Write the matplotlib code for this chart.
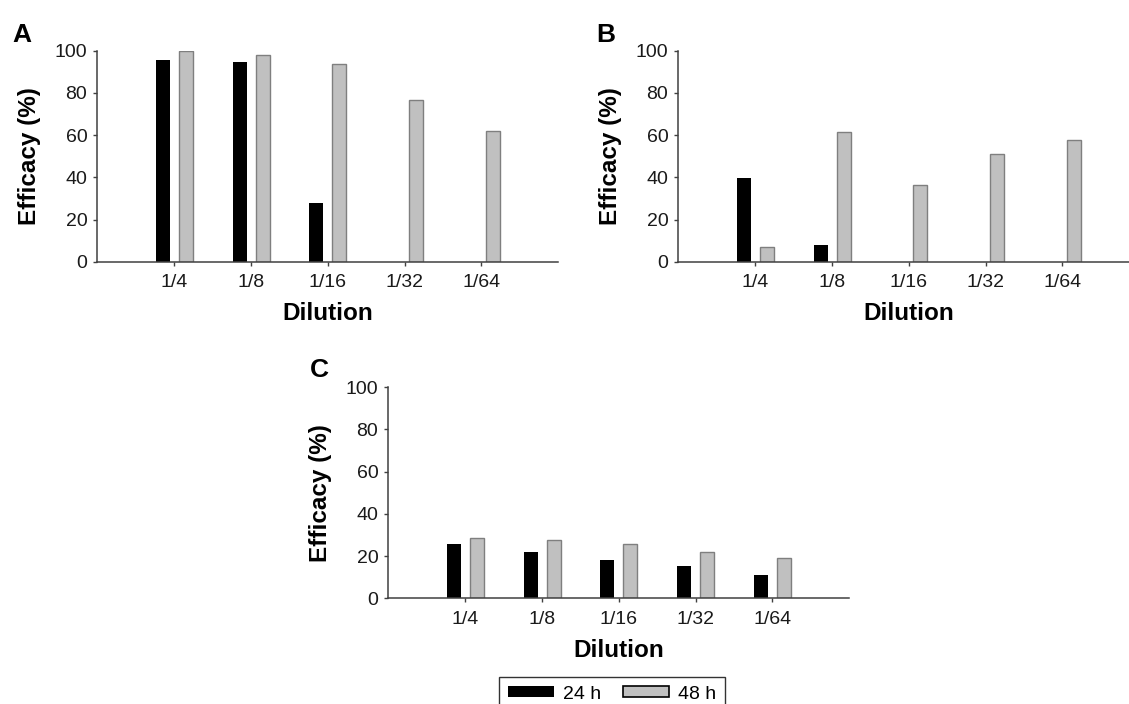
import matplotlib
matplotlib.use("Agg")
import matplotlib.pyplot as plt
import numpy as np
from matplotlib.patches import Patch

plt.rcParams['font.family'] = ['Liberation Sans', 'DejaVu Sans']

dilutions = ["1/4", "1/8", "1/16", "1/32", "1/64"]

# efficacy (%) after 24 h and 48 h for each panel
a_24h = [95.6, 94.5, 27.9, 0, 0]
a_48h = [99.8, 98.1, 93.9, 76.5, 61.9]
b_24h = [39.9, 7.8, 0, 0, 0]
b_48h = [7.2, 61.7, 36.4, 50.9, 57.9]
c_24h = [25.9, 21.8, 18.2, 15.2, 11.1]
c_48h = [28.4, 27.7, 25.5, 21.9, 19.3]

W, H = 1129, 704
fig = plt.figure(figsize=(W / 100, H / 100), dpi=100)

gray = "#c0c0c0"
edge = "#7f7f7f"
axis_col = "#404040"
bw = 0.18
off = 0.15


def panel(rect, v24, v48, letter, letter_xy):
    ax = fig.add_axes(rect)
    x = np.arange(len(dilutions))
    ax.bar(x - off, v24, bw, color="black", linewidth=0)
    ax.bar(x + off, v48, bw, color=gray, edgecolor=edge, linewidth=1.0)
    ax.set_xlim(-1.01, 5.0)
    ax.set_ylim(0, 100)
    ax.set_xticks(x)
    ax.set_xticklabels(dilutions)
    ax.set_yticks(range(0, 101, 20))
    for s in ("top", "right"):
        ax.spines[s].set_visible(False)
    for s in ("left", "bottom"):
        ax.spines[s].set_color(axis_col)
        ax.spines[s].set_linewidth(1.1)
    ax.tick_params(axis="both", direction="out", length=3, width=1,
                   color=axis_col, labelsize=14, labelcolor="#1a1a1a")
    ax.tick_params(axis="y", pad=4)
    ax.tick_params(axis="x", pad=6)
    ax.set_xlabel("Dilution", fontsize=17.5, fontweight="bold", labelpad=8)
    ax.set_ylabel("Efficacy (%)", fontsize=17.5, fontweight="bold", labelpad=10)
    fig.text(letter_xy[0] / W, 1 - letter_xy[1] / H, letter, fontsize=19,
             fontweight="bold", va="baseline", ha="left")
    return ax


aw, ah = 461 / W, 211 / H
panel([97 / W, 1 - 261.7 / H, aw, ah], a_24h, a_48h, "A", (12, 42))
panel([678 / W, 1 - 261.7 / H, aw, ah], b_24h, b_48h, "B", (596, 42))
panel([388 / W, 1 - 598.3 / H, aw, ah], c_24h, c_48h, "C", (310, 377))

handles = [Patch(facecolor="black", edgecolor="black", linewidth=0),
           Patch(facecolor=gray, edgecolor="black", linewidth=1.2)]
leg = fig.legend(handles, ["24 h", "48 h"], loc="upper center",
                 bbox_to_anchor=(612 / W, 1 - 677 / H), ncol=2, fontsize=14,
                 frameon=True, fancybox=False, borderaxespad=0,
                 handlelength=2.4, handleheight=0.5, handletextpad=0.45,
                 columnspacing=1.1, borderpad=0.45)
leg.get_frame().set_edgecolor("black")
leg.get_frame().set_linewidth(1.0)

fig.savefig("out.png", dpi=100)
